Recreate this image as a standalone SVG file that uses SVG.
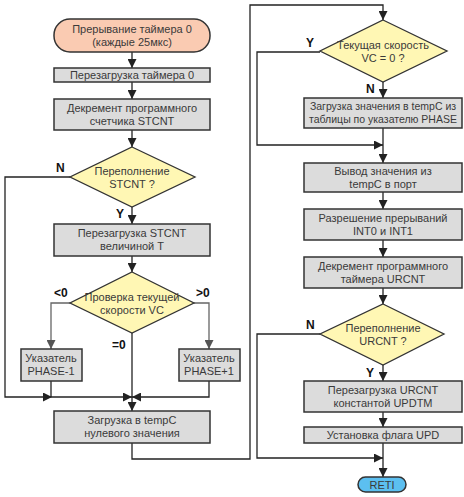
<svg xmlns="http://www.w3.org/2000/svg" width="464" height="497" viewBox="0 0 464 497">
<defs>
<marker id="ah" markerUnits="userSpaceOnUse" markerWidth="9" markerHeight="9" viewBox="0 0 10 10" refX="10" refY="5" orient="auto">
<path d="M0,0 L10,5 L0,10 z" fill="#222"/>
</marker>
<marker id="ahg" markerUnits="userSpaceOnUse" markerWidth="9" markerHeight="9" viewBox="0 0 10 10" refX="10" refY="5" orient="auto">
<path d="M0,0 L10,5 L0,10 z" fill="#555"/>
</marker>
</defs>
<style>
.box{fill:#dcdcdc;stroke:#333;stroke-width:1.5}
.dia{fill:#fff7b4;stroke:#333;stroke-width:1.3}
.term{fill:#facbb2;stroke:#333;stroke-width:1.5}
.reti{fill:#5cbff0;stroke:#333;stroke-width:1.5}
.t{font-family:"Liberation Sans",Arial,sans-serif;font-size:11px;fill:#3a3a3a;text-anchor:middle}
.ts{font-size:10.5px}
.lbl{font-family:"Liberation Sans",Arial,sans-serif;font-size:12px;font-weight:bold;fill:#111}
.c{fill:none;stroke:#222;stroke-width:1.3}
.cg{fill:none;stroke:#666;stroke-width:1.3}
</style>
<rect width="464" height="497" fill="#fff"/>
<g id="connectors">
<path class="c" d="M132,52 V68" marker-end="url(#ah)"/>
<path class="c" d="M132,82 V99" marker-end="url(#ah)"/>
<path class="c" d="M132,130 V147" marker-end="url(#ah)"/>
<path class="c" d="M132,207 V224" marker-end="url(#ah)"/>
<path class="c" d="M132,256 V272" marker-end="url(#ah)"/>
<path class="c" d="M70,177 H5 V397 H52" marker-end="url(#ah)"/>
<path class="c" d="M52,397 H132" marker-end="url(#ah)"/>
<path class="c" d="M51,381 V397"/>
<path class="c" d="M209,381 V397 H132" marker-end="url(#ah)"/>
<path class="cg" d="M70,303 H51 V349" marker-end="url(#ahg)"/>
<path class="cg" d="M194,303 H209 V349" marker-end="url(#ahg)"/>
<path class="c" d="M132,333 V411" marker-end="url(#ah)"/>
<path class="c" d="M132,443 V459 H250 V5 H383 V20" marker-end="url(#ah)"/>
<path class="c" d="M383,82 V98" marker-end="url(#ah)"/>
<path class="c" d="M320,52 H257 V145 H383" marker-end="url(#ah)"/>
<path class="c" d="M383,128 V163" marker-end="url(#ah)"/>
<path class="c" d="M383,192 V209" marker-end="url(#ah)"/>
<path class="c" d="M383,240 V257" marker-end="url(#ah)"/>
<path class="c" d="M383,288 V304" marker-end="url(#ah)"/>
<path class="c" d="M320,334 H257 V458 H383" marker-end="url(#ah)"/>
<path class="c" d="M383,365 V381" marker-end="url(#ah)"/>
<path class="c" d="M383,412 V427" marker-end="url(#ah)"/>
<path class="c" d="M383,443 V477" marker-end="url(#ah)"/>
<text class="lbl" x="56" y="172">N</text>
<text class="lbl" x="116" y="218">Y</text>
<text class="lbl" x="54" y="297">&lt;0</text>
<text class="lbl" x="196" y="297">&gt;0</text>
<text class="lbl" x="112" y="349">=0</text>
<text class="lbl" x="306" y="47">Y</text>
<text class="lbl" x="366" y="93">N</text>
<text class="lbl" x="306" y="329">N</text>
<text class="lbl" x="366" y="377">Y</text>
</g>
<g id="n-start">
<rect class="term" x="54" y="19" width="156" height="33" rx="16"/>
<text class="t" x="132" y="33">Прерывание таймера 0</text>
<text class="t" x="132" y="46">(каждые 25мкс)</text>
</g>
<g id="n-reload-t0">
<rect class="box" x="54" y="68" width="156" height="14"/>
<text class="t" x="132" y="79">Перезагрузка таймера 0</text>
</g>
<g id="n-dec-stcnt">
<rect class="box" x="54" y="99" width="156" height="31"/>
<text class="t" x="132" y="112">Декремент программного</text>
<text class="t" x="132" y="125">счетчика STCNT</text>
</g>
<g id="n-ovf-stcnt">
<polygon class="dia" points="132,147 195,177 132,207 70,177"/>
<text class="t" x="132" y="175">Переполнение</text>
<text class="t" x="132" y="188">STCNT ?</text>
</g>
<g id="n-reload-stcnt">
<rect class="box" x="54" y="224" width="156" height="32"/>
<text class="t" x="132" y="237">Перезагрузка STCNT</text>
<text class="t" x="132" y="250">величиной T</text>
</g>
<g id="n-check-vc">
<polygon class="dia" points="132,272 194,303 132,333 70,303"/>
<text class="t" x="132" y="301">Проверка текущей</text>
<text class="t" x="132" y="314">скорости VC</text>
</g>
<g id="n-phase-minus">
<rect class="box" x="21" y="349" width="61" height="32"/>
<text class="t" x="51" y="362">Указатель</text>
<text class="t" x="51" y="375">PHASE-1</text>
</g>
<g id="n-phase-plus">
<rect class="box" x="179" y="349" width="61" height="32"/>
<text class="t" x="209" y="362">Указатель</text>
<text class="t" x="209" y="375">PHASE+1</text>
</g>
<g id="n-load-zero">
<rect class="box" x="54" y="411" width="156" height="32"/>
<text class="t" x="132" y="424">Загрузка в tempC</text>
<text class="t" x="132" y="437">нулевого значения</text>
</g>
<g id="n-vc-zero">
<polygon class="dia" points="383,20 447,51 383,82 320,51"/>
<text class="t" x="383" y="49">Текущая скорость</text>
<text class="t" x="383" y="62">VC = 0 ?</text>
</g>
<g id="n-load-table">
<rect class="box" x="304" y="98" width="158" height="30"/>
<text class="t ts" x="383" y="110">Загрузка значения в tempC из</text>
<text class="t ts" x="383" y="123">таблицы по указателю PHASE</text>
</g>
<g id="n-output">
<rect class="box" x="304" y="163" width="158" height="29"/>
<text class="t" x="383" y="175">Вывод значения из</text>
<text class="t" x="383" y="188">tempC в порт</text>
</g>
<g id="n-enable-int">
<rect class="box" x="304" y="209" width="158" height="31"/>
<text class="t" x="383" y="222">Разрешение прерываний</text>
<text class="t" x="383" y="235">INT0 и INT1</text>
</g>
<g id="n-dec-urcnt">
<rect class="box" x="304" y="257" width="158" height="31"/>
<text class="t" x="383" y="270">Декремент программного</text>
<text class="t" x="383" y="283">таймера URCNT</text>
</g>
<g id="n-ovf-urcnt">
<polygon class="dia" points="383,304 444,334 383,365 320,334"/>
<text class="t" x="383" y="332">Переполнение</text>
<text class="t" x="383" y="345">URCNT ?</text>
</g>
<g id="n-reload-urcnt">
<rect class="box" x="304" y="381" width="158" height="31"/>
<text class="t" x="383" y="394">Перезагрузка URCNT</text>
<text class="t" x="383" y="407">константой UPDTM</text>
</g>
<g id="n-set-upd">
<rect class="box" x="304" y="427" width="158" height="16"/>
<text class="t" x="383" y="439">Установка флага UPD</text>
</g>
<g id="n-reti">
<rect class="reti" x="358" y="477" width="48" height="15" rx="7.5"/>
<text class="t" x="382" y="488.5">RETI</text>
</g>
</svg>
